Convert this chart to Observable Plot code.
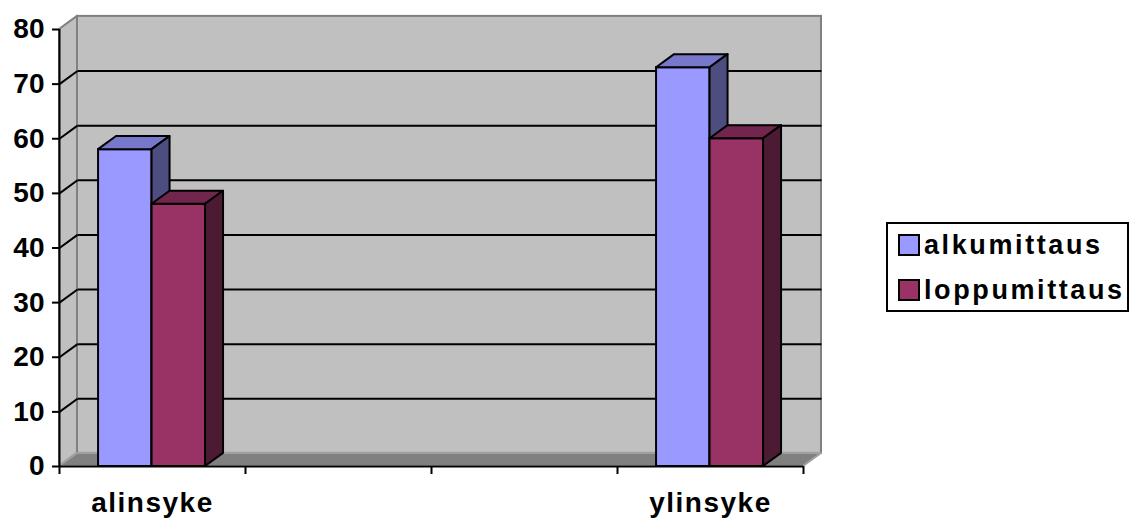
<!DOCTYPE html>
<html>
<head>
<meta charset="utf-8">
<script src="https://cdn.jsdelivr.net/npm/d3@7"></script>
<script src="https://cdn.jsdelivr.net/npm/@observablehq/plot@0.6"></script>
<style>
  html, body { margin: 0; padding: 0; background: #fff; }
  #wrap { position: relative; width: 1131px; height: 518px; overflow: hidden; font-family: "Liberation Sans", Arial, sans-serif; }
  #legend { position: absolute; left: 886px; top: 222px; width: 239px; height: 86px; border: 2px solid #000; background: #fff; box-sizing: content-box; }
  .item { position: absolute; left: 10px; height: 30px; display: flex; align-items: center; font-weight: bold; font-size: 27px; letter-spacing: 2.6px; color: #000; white-space: nowrap; }
  .sw { width: 18px; height: 18px; border: 2px solid #000; margin-right: 4px; }
  #chart svg g[aria-label="y-axis tick label"] text { letter-spacing: 0px; }
  #chart svg g[aria-label="text"] text { letter-spacing: 1.5px; }
</style>
</head>
<body>
<div id="wrap"><div id="chart"></div><div id="legend"></div></div>
<script>
// ---- data ----
const categories = ["alinsyke", "ylinsyke"];
const categorySlot = [0, 3];            // position among the 4 category slots
const slotTicks = [0, 1, 2, 3, 4];
const series = ["alkumittaus", "loppumittaus"];
const alkumittaus = [58, 73];
const loppumittaus = [48, 60];
const yTicks = [0, 10, 20, 30, 40, 50, 60, 70, 80];
const gridValues = [10, 20, 30, 40, 50, 60, 70];

const frontColors = ["#9999FF", "#993366"];
const topColors = ["#7777CC", "#73264D"];
const sideColors = ["#4D4D80", "#4D1A33"];

// ---- geometry (3D depth in data units) ----
const DX = 18 / 186;
const DY = 2.4;
const GAP = 0.21;
const BW = 0.2876;
const NS = slotTicks[slotTicks.length - 1];
const YMAX = yTicks[yTicks.length - 1];

const valuesBySeries = [alkumittaus, loppumittaus];
const bars = [];
categories.forEach((c, i) => {
  series.forEach((s, j) => {
    const x1 = categorySlot[i] + GAP + j * BW;
    bars.push({id: c + s, series: j, x1, x2: x1 + BW, v: valuesBySeries[j][i]});
  });
});
const topPts = [], sidePts = [];
bars.forEach(b => {
  topPts.push({id: b.id, series: b.series, x: b.x1, y1: b.v, y2: b.v});
  topPts.push({id: b.id, series: b.series, x: b.x1 + DX, y1: b.v, y2: b.v + DY});
  topPts.push({id: b.id, series: b.series, x: b.x2, y1: b.v, y2: b.v + DY});
  topPts.push({id: b.id, series: b.series, x: b.x2 + DX, y1: b.v + DY, y2: b.v + DY});
  sidePts.push({id: b.id, series: b.series, x: b.x2, y1: 0, y2: b.v});
  sidePts.push({id: b.id, series: b.series, x: b.x2 + DX, y1: DY, y2: b.v + DY});
});
const floorPts = [
  {x: 0, y1: 0, y2: 0}, {x: DX, y1: 0, y2: DY},
  {x: NS, y1: 0, y2: DY}, {x: NS + DX, y1: DY, y2: DY}
];
const sideWallPts = [{x: 0, y1: 0, y2: YMAX}, {x: DX, y1: DY, y2: YMAX + DY}];

const marks = [
  Plot.rect([0], {x1: DX, x2: NS + DX, y1: DY, y2: YMAX + DY, fill: "#C0C0C0", stroke: "#808080", strokeWidth: 2}),
  Plot.areaY(sideWallPts, {x: "x", y1: "y1", y2: "y2", fill: "#C0C0C0", stroke: "#808080", strokeWidth: 2}),
  Plot.areaY(floorPts, {x: "x", y1: "y1", y2: "y2", fill: "#808080", stroke: "#A0A0A0", strokeWidth: 2}),
  Plot.link(gridValues, {x1: DX, x2: NS + DX, y1: d => d + DY, y2: d => d + DY, stroke: "#000", strokeWidth: 2}),
  Plot.link(gridValues, {x1: 0, x2: DX, y1: d => d, y2: d => d + DY, stroke: "#000", strokeWidth: 2}),
];
series.forEach((s, j) => {
  marks.push(
    Plot.rect(bars.filter(b => b.series === j), {x1: "x1", x2: "x2", y1: 0, y2: "v", fill: frontColors[j], stroke: "#000", strokeWidth: 2}),
    Plot.areaY(topPts.filter(p => p.series === j), {x: "x", y1: "y1", y2: "y2", z: "id", fill: topColors[j], stroke: "#000", strokeWidth: 2, strokeLinejoin: "round"}),
    Plot.areaY(sidePts.filter(p => p.series === j), {x: "x", y1: "y1", y2: "y2", z: "id", fill: sideColors[j], stroke: "#000", strokeWidth: 2, strokeLinejoin: "round"})
  );
});
marks.push(
  Plot.ruleX([0], {y1: 0, y2: YMAX, stroke: "#000", strokeWidth: 2}),
  Plot.ruleY([0], {x1: 0, x2: NS, stroke: "#000", strokeWidth: 2}),
  Plot.axisY(yTicks, {tickSize: 7, tickPadding: 8, label: null, stroke: "#000", strokeWidth: 2, fill: "#000", fontSize: 28, fontWeight: "bold"}),
  Plot.axisX(slotTicks, {tickSize: 8, tickFormat: () => "", label: null, stroke: "#000", strokeWidth: 2}),
  Plot.text(categories, {x: (d, i) => categorySlot[i] + 0.5, y: 0, dy: 37, text: d => d, fill: "#000", fontSize: 28, fontWeight: "bold"})
);

const plot = Plot.plot({
  width: 860,
  height: 518,
  marginLeft: 59,
  marginRight: 57,
  marginTop: 29,
  marginBottom: 52,
  x: {type: "linear", domain: [0, NS]},
  y: {domain: [0, YMAX]},
  style: {fontFamily: "'Liberation Sans', Arial, sans-serif", background: "#fff", color: "#000", overflow: "visible"},
  marks
});
document.getElementById("chart").appendChild(plot);

const legend = document.getElementById("legend");
series.forEach((s, j) => {
  const item = document.createElement("div");
  item.className = "item";
  item.style.top = (j === 0 ? 6 : 51) + "px";
  const sw = document.createElement("div");
  sw.className = "sw";
  sw.style.background = frontColors[j];
  item.appendChild(sw);
  item.appendChild(document.createTextNode(s));
  legend.appendChild(item);
});
</script>
</body>
</html>
